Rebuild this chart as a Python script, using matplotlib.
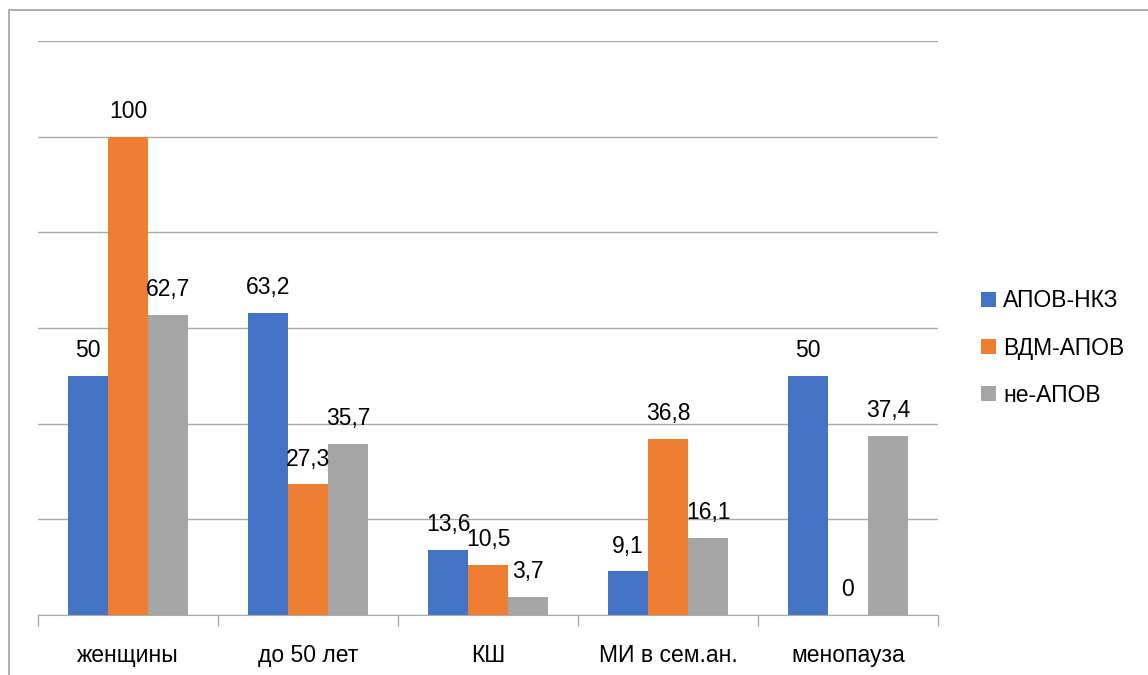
import matplotlib
matplotlib.use("Agg")
import matplotlib.pyplot as plt
from matplotlib.patches import Rectangle
import numpy as np

# categories and series
categories = ["женщины", "до 50 лет", "КШ", "МИ в сем.ан.", "менопауза"]
series_names = ["АПОВ-НКЗ", "ВДМ-АПОВ", "не-АПОВ"]
apov_nkz = [50, 63.2, 13.6, 9.1, 50]
vdm_apov = [100, 27.3, 10.5, 36.8, 0]
ne_apov = [62.7, 35.7, 3.7, 16.1, 37.4]

colors = ["#4472C4", "#ED7D31", "#A5A5A5"]
grid_color = "#ABABAB"

plt.rcParams["font.family"] = ["Liberation Sans", "DejaVu Sans"]
FS = 16.5

W, H = 1148, 675
fig = plt.figure(figsize=(W / 100, H / 100), dpi=100)
ax = fig.add_axes([38 / W, 60 / H, 900 / W, 574 / H])

x = np.arange(len(categories))
bw = 40 / 180
for j, vals in enumerate([apov_nkz, vdm_apov, ne_apov]):
    pos = x + (j - 1) * bw
    bars = ax.bar(pos, vals, width=bw, color=colors[j], label=series_names[j], zorder=3)
    for b, v in zip(bars, vals):
        txt = f"{v:g}".replace(".", ",")
        ax.annotate(txt, (b.get_x() + b.get_width() / 2, v), xytext=(0, 10),
                    textcoords="offset points", ha="center", va="bottom",
                    fontsize=FS, color="#000000", zorder=4)

ax.set_xlim(-0.5, len(categories) - 0.5)
ax.set_ylim(0, 120)
ax.set_yticks(np.arange(0, 121, 20))
ax.yaxis.grid(True, color=grid_color, linewidth=1, zorder=0)
ax.tick_params(axis="y", left=False, labelleft=False)

ax.set_xticks(x)
ax.set_xticklabels(categories, fontsize=FS)
ax.set_xticks(np.arange(-0.5, len(categories)), minor=True)
ax.tick_params(axis="x", which="major", length=0, pad=21)
ax.tick_params(axis="x", which="minor", length=8, color=grid_color, width=1)

for s in ["top", "right", "left"]:
    ax.spines[s].set_visible(False)
ax.spines["bottom"].set_color(grid_color)

leg = fig.legend(loc="upper left", bbox_to_anchor=(970 / W, 1 - 278 / H),
                 frameon=False, fontsize=FS, handlelength=0.65, handleheight=0.65,
                 handletextpad=0.3, labelspacing=1.05, borderpad=0)

# outer chart frame (open on the right and bottom)
fig.add_artist(Rectangle((9 / W, -0.1), 2, 1.1 - 10 / H, transform=fig.transFigure,
                         fill=False, edgecolor="#A0A0A0", linewidth=1.2))

fig.savefig("out.png", dpi=100)
